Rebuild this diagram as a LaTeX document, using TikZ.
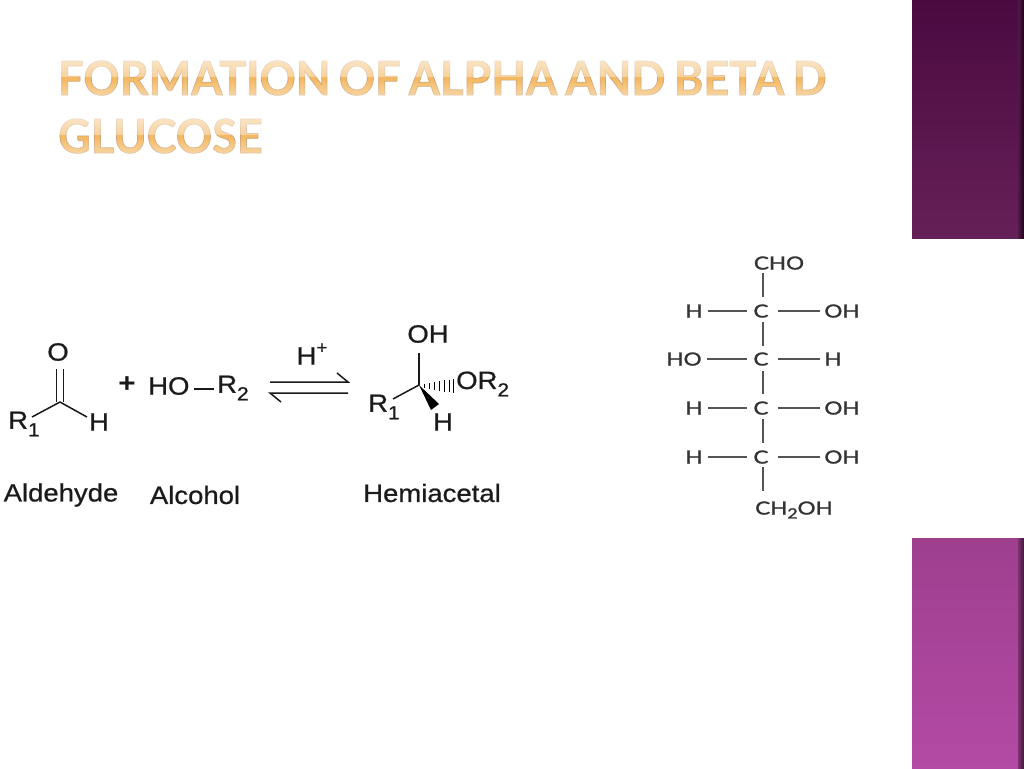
\documentclass[tikz,border=0pt]{standalone}
\usepackage{fontspec}
\setmainfont{Liberation Sans}
\newfontfamily\chemf[FakeStretch=1.1]{Liberation Sans}
\newfontfamily\fisf[FakeStretch=1.25]{Lato}
\newfontfamily\ttlf[FakeStretch=0.957,WordSpace=0.75]{Lato Bold}
\newcommand{\chemsub}[1]{\raisebox{-0.3em}{\fontsize{19}{19}\selectfont #1}}
\newcommand{\fissub}[1]{\raisebox{-0.22em}{\fontsize{14}{14}\selectfont #1}}
\newcommand{\outl}{\special{pdf:code 2 Tr 0.7 w 0.80 0.62 0.42 RG}}
\newcommand{\thick}{\special{pdf:code 2 Tr 0.25 w 0.2 0.2 0.2 RG}}
\definecolor{barTopA}{HTML}{4A0A40}
\definecolor{barTopB}{HTML}{662058}
\definecolor{barBotA}{HTML}{9E3F8E}
\definecolor{barBotB}{HTML}{B34AA5}
\definecolor{ttlc}{HTML}{F4B65C}
\definecolor{fisc}{HTML}{333333}
\definecolor{fisb}{HTML}{555555}
\tikzset{
  chemt/.style={font=\chemf\fontsize{25}{25}\selectfont, text=black!90, inner sep=0pt},
  labelt/.style={chemt},
  bond/.style={draw=black!90, line width=1.5pt},
  fist/.style={font=\fisf\fontsize{18}{18}\selectfont, text=fisc, inner sep=0pt, text height=13pt, text depth=0pt},
  fisbond/.style={draw=fisb, line width=1.3pt},
  ttl/.style={font=\ttlf\fontsize{47}{47}\selectfont, text=ttlc, inner sep=0pt, anchor=base west}
}
\begin{document}
\begin{tikzpicture}[x=1pt,y=-1pt]
\useasboundingbox (0,0) rectangle (1024,768);
\fill[white] (0,0) rectangle (1024,768);
% side bars
\shade[top color=barTopA,bottom color=barTopB] (912,0) rectangle (1024,238);
\shade[left color=barTopB!80!black,right color=barTopA!40!black] (1018,0) rectangle (1024,238);
\shade[top color=barBotA,bottom color=barBotB] (912,538) rectangle (1024,768);
\shade[left color=barBotA!80!black,right color=barBotA!40!black] (1018,538) rectangle (1024,768);
% title
\node[ttl] (title1) at (58,95) {\outl FORMATION OF ALPHA AND BETA D};
\node[ttl] (title2) at (58,153) {\outl GLUCOSE};
% gloss over the title: white strips only lighten the letters
\foreach \base in {58,116}{
  \foreach \i in {0,...,38}{
    \pgfmathsetmacro{\t}{\i/38}
    \pgfmathsetmacro{\a}{\t<0.5 ? 0.68-0.3*\t/0.5 : (\t<0.56 ? 0.05 : 0.05+0.4*(\t-0.56)/0.44)}
    \fill[white,opacity=\a] (50,\base+\i) rectangle (860,\base+\i+1);
  }
}
% aldehyde
\coordinate (ca) at (60,402);
\node[chemt] (ao) at (58,352) {\thick O};
\node[chemt,anchor=west] (ar) at (8,424) {\thick R\chemsub{1}};
\node[chemt] (ah) at (99,422) {\thick H};
\coordinate (ar1) at (32,417);
\coordinate (ah1) at (87,417);
\coordinate (ao1) at (56.5,369);
\coordinate (ao2) at (63.5,369);
\coordinate (ca1) at (56.5,402);
\coordinate (ca2) at (63.5,402);
\draw[bond] (ao1) -- (ca1);
\draw[bond] (ao2) -- (ca2);
\draw[bond,line join=round] (ar1) -- (ca) -- (ah1);
% plus, alcohol
\node[chemt,font=\chemf\bfseries\fontsize{27}{27}\selectfont] (plus) at (127,385) {+};
\node[chemt,anchor=west] (ho) at (148,386) {\thick HO};
\node[chemt,anchor=west] (r2) at (217,388) {\thick R\chemsub{2}};
\coordinate (hob) at (194,389);
\coordinate (r2b) at (214,389);
\draw[bond] (hob) -- (r2b);
% equilibrium
\node[chemt] (hp) at (312,354) {\thick H\raisebox{0.45em}{\fontsize{17}{17}\selectfont +}};
\coordinate (e1) at (270,382);
\coordinate (e2) at (348,382);
\coordinate (e3) at (337,373);
\coordinate (e4) at (348,393);
\coordinate (e5) at (270,393);
\coordinate (e6) at (281,402);
\draw[bond,line join=miter] (e1) -- (e2) -- (e3);
\draw[bond,line join=miter] (e4) -- (e5) -- (e6);
% hemiacetal
\coordinate (ch) at (419,385);
\node[chemt] (hoh) at (428,334) {\thick OH};
\node[chemt,anchor=west] (hr) at (368,407) {\thick R\chemsub{1}};
\node[chemt,anchor=west] (hor) at (456,384) {\thick OR\chemsub{2}};
\node[chemt] (hh) at (443,422) {\thick H};
\coordinate (hoh1) at (419,353);
\coordinate (hr1) at (393,399);
\coordinate (w1) at (431,410);
\coordinate (w2) at (439,404);
\draw[bond] (hoh1) -- (ch);
\draw[bond] (hr1) -- (ch);
\fill[black] (ch) -- (w1) -- (w2) -- cycle;
\foreach \x/\h in {424/2,429/3,434/4,439/4.8,444/5.6,449/6.4,453/7}{
  \draw[black,line width=0.9pt] (\x,386-\h) -- (\x,386+\h);
}
% labels
\node[labelt] (lb1) at (61,495) {\thick Aldehyde};
\node[labelt] (lb2) at (195,495) {\thick Alcohol};
\node[labelt] (lb3) at (432,493) {\thick Hemiacetal};
% Fischer projection
\node[fist] (cho) at (779,263) {\thick CHO};
\foreach \n/\y in {1/311,2/359,3/408,4/457}{
  \node[fist] (c\n) at (761,\y) {\thick C};
}
\node[fist] (h1) at (694,311) {\thick H};
\node[fist] (o1) at (842,311) {\thick OH};
\node[fist] (o2) at (684,359) {\thick HO};
\node[fist] (h2) at (833,359) {\thick H};
\node[fist] (h3) at (694,408) {\thick H};
\node[fist] (o3) at (842,408) {\thick OH};
\node[fist] (h4) at (694,457) {\thick H};
\node[fist] (o4) at (842,457) {\thick OH};
\node[fist] (ch2) at (794,508) {\thick CH\fissub{2}OH};
\foreach \a/\b in {h1/c1,o2/c2,h3/c3,h4/c4}{
  \draw[fisbond,shorten <=5pt,shorten >=6pt] (\a.east) -- (\b.west);
}
\foreach \a/\b in {c1/o1,c2/h2,c3/o3,c4/o4}{
  \draw[fisbond,shorten <=9pt,shorten >=4pt] (\a.east) -- (\b.west);
}
\coordinate (v0) at (763,273);
\coordinate (v0e) at (763,297);
\coordinate (v1) at (763,322);
\coordinate (v1e) at (763,346);
\coordinate (v2) at (763,371);
\coordinate (v2e) at (763,394);
\coordinate (v3) at (763,419);
\coordinate (v3e) at (763,443);
\coordinate (v4) at (763,467);
\coordinate (v4e) at (763,491);
\foreach \n in {0,...,4}{
  \draw[fisbond] (v\n) -- (v\n e);
}
\end{tikzpicture}
\end{document}
